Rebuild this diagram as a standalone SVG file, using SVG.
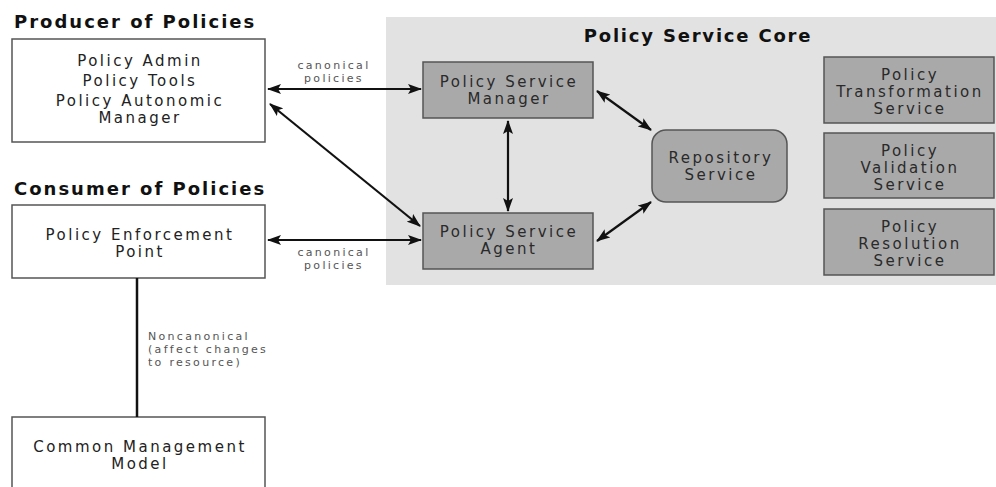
<svg xmlns="http://www.w3.org/2000/svg" width="996" height="487" viewBox="0 0 996 487">
<style>
.hdr{font-family:"DejaVu Sans","Liberation Sans",sans-serif;font-weight:bold;font-size:18px;letter-spacing:2px;fill:#111}
.wbox{fill:#fff;stroke:#555;stroke-width:1.5}
.gbox{fill:#a9a9a9;stroke:#555;stroke-width:1.5}
.t{font-family:"DejaVu Sans","Liberation Sans",sans-serif;font-size:15px;letter-spacing:2.5px;fill:#2a2a2a;text-anchor:middle}
.tw{font-family:"DejaVu Sans","Liberation Sans",sans-serif;font-size:15px;letter-spacing:2.5px;fill:#222;text-anchor:middle}
.sm{font-family:"DejaVu Sans","Liberation Sans",sans-serif;font-size:11px;letter-spacing:2.3px;fill:#555}
.arr{stroke:#111;stroke-width:2.2;fill:none;marker-start:url(#ah);marker-end:url(#ah)}
</style>
<defs>
<marker id="ah" viewBox="0 0 14 10" refX="13" refY="5" markerWidth="14" markerHeight="10" markerUnits="userSpaceOnUse" orient="auto-start-reverse">
<path d="M0,0 L14,5 L0,10 L3,5 Z" fill="#111"/>
</marker>
</defs>
<rect x="386" y="17" width="612" height="268" fill="#e2e2e2"/>
<text class="hdr" x="14" y="28">Producer of Policies</text>
<text class="hdr" x="14" y="195">Consumer of Policies</text>
<text class="hdr" x="698" y="42" text-anchor="middle" style="letter-spacing:1.8px">Policy Service Core</text>
<g id="producer">
<rect class="wbox" x="12" y="39" width="253" height="103"/>
<text class="tw" x="140" y="66">Policy Admin</text>
<text class="tw" x="140" y="86">Policy Tools</text>
<text class="tw" x="140" y="106">Policy Autonomic</text>
<text class="tw" x="140" y="123">Manager</text>
</g>
<g id="consumer">
<rect class="wbox" x="12" y="205" width="253" height="73"/>
<text class="tw" x="140" y="240">Policy Enforcement</text>
<text class="tw" x="140" y="257">Point</text>
</g>
<g id="common">
<rect class="wbox" x="12" y="417" width="253" height="90"/>
<text class="tw" x="140" y="452">Common Management</text>
<text class="tw" x="140" y="469">Model</text>
</g>
<g id="manager">
<rect class="gbox" x="423" y="62" width="170" height="56"/>
<text class="t" x="509" y="87">Policy Service</text>
<text class="t" x="509" y="104">Manager</text>
</g>
<g id="agent">
<rect class="gbox" x="423" y="213" width="170" height="56"/>
<text class="t" x="509" y="237">Policy Service</text>
<text class="t" x="509" y="254">Agent</text>
</g>
<g id="repository">
<rect class="gbox" x="652" y="130" width="135" height="72" rx="14"/>
<text class="t" x="721" y="163">Repository</text>
<text class="t" x="721" y="180">Service</text>
</g>
<g id="transformation">
<rect class="gbox" x="824" y="57" width="170" height="66"/>
<text class="t" x="910" y="80">Policy</text>
<text class="t" x="910" y="97">Transformation</text>
<text class="t" x="910" y="114">Service</text>
</g>
<g id="validation">
<rect class="gbox" x="824" y="133" width="170" height="65"/>
<text class="t" x="910" y="156">Policy</text>
<text class="t" x="910" y="173">Validation</text>
<text class="t" x="910" y="190">Service</text>
</g>
<g id="resolution">
<rect class="gbox" x="824" y="209" width="170" height="66"/>
<text class="t" x="910" y="232">Policy</text>
<text class="t" x="910" y="249">Resolution</text>
<text class="t" x="910" y="266">Service</text>
</g>
<g id="connectors">
<line class="arr" x1="268" y1="89" x2="421" y2="89"/>
<line class="arr" x1="270" y1="104" x2="420" y2="226"/>
<line class="arr" x1="268" y1="240" x2="421" y2="240"/>
<line class="arr" x1="508" y1="121" x2="508" y2="211"/>
<line class="arr" x1="597" y1="91" x2="651" y2="130"/>
<line class="arr" x1="597" y1="241" x2="651" y2="202"/>
<line x1="137" y1="278" x2="137" y2="417" stroke="#111" stroke-width="2.5"/>
<text class="sm" x="334" y="69" text-anchor="middle">canonical</text>
<text class="sm" x="334" y="82" text-anchor="middle">policies</text>
<text class="sm" x="334" y="256" text-anchor="middle">canonical</text>
<text class="sm" x="334" y="269" text-anchor="middle">policies</text>
<text class="sm" x="148" y="340">Noncanonical</text>
<text class="sm" x="148" y="353">(affect changes</text>
<text class="sm" x="148" y="366">to resource)</text>
</g>
</svg>
